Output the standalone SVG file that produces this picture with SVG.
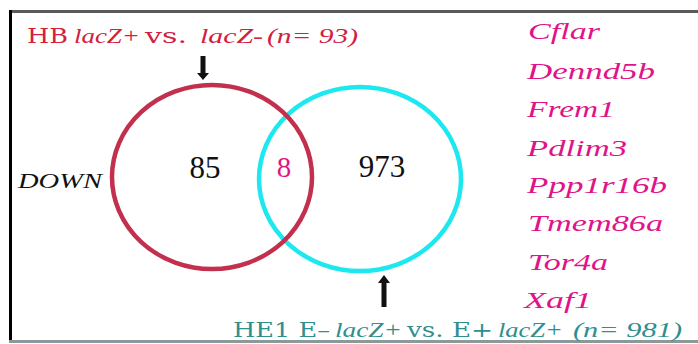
<svg xmlns="http://www.w3.org/2000/svg" width="698" height="344" viewBox="0 0 698 344">
<defs>
<style>
.t{font-family:"DejaVu Serif","Liberation Serif",serif;font-size:20px}
.i{font-family:"Liberation Serif","Times New Roman",serif;font-style:italic;font-size:22px}
.red{fill:#d2203e}
.teal{fill:#2f8f8f}
.gene{font-family:"Liberation Serif","Times New Roman",serif;font-size:24px;font-style:italic;fill:#e0148a}
.num{font-family:"Liberation Serif","Times New Roman",serif;font-size:31px;fill:#111;text-anchor:middle}
.arrow{stroke:#111;stroke-width:5;fill:none}
</style>
</defs>
<rect width="698" height="344" fill="#ffffff"/>
<g id="frame">
<rect x="9" y="10" width="689" height="3" fill="#5a5a5a"/>
<rect x="9" y="10" width="3" height="333" fill="#000"/>
<rect x="9" y="340" width="689" height="3" fill="#8a9a9a"/>
</g>
<g id="setB">
<ellipse cx="360" cy="179" rx="101" ry="92" fill="none" stroke="#1ee8ef" stroke-width="4.5"/>
</g>
<g id="setA">
<ellipse cx="212" cy="177" rx="100" ry="92" fill="none" stroke="#c2304e" stroke-width="4.5"/>
</g>
<g id="counts">
<text class="num" x="205" y="178">85</text>
<text class="num" x="284" y="177" style="font-size:29px;fill:#e0148a">8</text>
<text class="num" x="382" y="177">973</text>
</g>
<g id="connectors">
<line class="arrow" x1="203" y1="56" x2="203" y2="74"/>
<polygon points="197,73 209,73 203,80" fill="#111"/>
<line class="arrow" x1="384" y1="282" x2="384" y2="307"/>
<polygon points="378,283 390,283 384,275" fill="#111"/>
</g>
<g id="titleA">
<text class="t red" x="27" y="43" textLength="41" lengthAdjust="spacingAndGlyphs">HB</text>
<text class="i red" x="74" y="43" textLength="66" lengthAdjust="spacingAndGlyphs">lacZ+</text>
<text class="t red" x="145" y="43" textLength="42" lengthAdjust="spacingAndGlyphs">vs.</text>
<text class="i red" x="200" y="43" textLength="63" lengthAdjust="spacingAndGlyphs">lacZ-</text>
<text class="i red" x="267" y="43" textLength="91" lengthAdjust="spacingAndGlyphs">(n= 93)</text>
</g>
<g id="titleB">
<text class="t teal" x="233" y="337" textLength="97" lengthAdjust="spacingAndGlyphs">HE1 E–</text>
<text class="i teal" x="335" y="337" textLength="67" lengthAdjust="spacingAndGlyphs">lacZ+</text>
<text class="t teal" x="407" y="337" textLength="86" lengthAdjust="spacingAndGlyphs">vs. E+</text>
<text class="i teal" x="498" y="337" textLength="65" lengthAdjust="spacingAndGlyphs">lacZ+</text>
<text class="i teal" x="573" y="337" textLength="109" lengthAdjust="spacingAndGlyphs">(n= 981)</text>
</g>
<g id="down">
<text class="i" x="18" y="188" textLength="84" lengthAdjust="spacingAndGlyphs" fill="#111" style="font-size:21px">DOWN</text>
</g>
<g id="genes">
<text class="gene" x="528" y="39" textLength="72" lengthAdjust="spacingAndGlyphs">Cflar</text>
<text class="gene" x="527" y="79" textLength="128" lengthAdjust="spacingAndGlyphs">Dennd5b</text>
<text class="gene" x="527" y="117" textLength="88" lengthAdjust="spacingAndGlyphs">Frem1</text>
<text class="gene" x="527" y="156" textLength="100" lengthAdjust="spacingAndGlyphs">Pdlim3</text>
<text class="gene" x="527" y="193" textLength="140" lengthAdjust="spacingAndGlyphs">Ppp1r16b</text>
<text class="gene" x="528" y="231" textLength="135" lengthAdjust="spacingAndGlyphs">Tmem86a</text>
<text class="gene" x="528" y="270" textLength="80" lengthAdjust="spacingAndGlyphs">Tor4a</text>
<text class="gene" x="524" y="308" textLength="68" lengthAdjust="spacingAndGlyphs">Xaf1</text>
</g>
</svg>
